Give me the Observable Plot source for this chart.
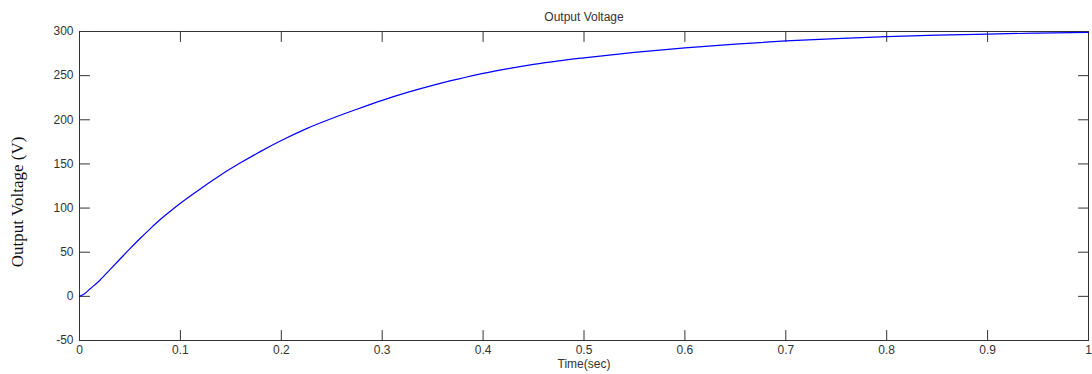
<!DOCTYPE html>
<html>
<head>
<meta charset="utf-8">
<script src="https://cdn.jsdelivr.net/npm/d3@7"></script>
<script src="https://cdn.jsdelivr.net/npm/@observablehq/plot@0.6"></script>
<style>
  html, body { margin: 0; padding: 0; background: #fff; }
  #chart svg { display: block; }
</style>
</head>
<body>
<div id="chart"></div>
<script>
// Data
const time = [0, 0.005, 0.01, 0.02, 0.03, 0.04, 0.05, 0.06, 0.07, 0.08, 0.09, 0.10,
  0.12, 0.14, 0.16, 0.18, 0.20, 0.225, 0.25, 0.275, 0.30, 0.325, 0.35, 0.375, 0.40,
  0.425, 0.45, 0.475, 0.50, 0.55, 0.60, 0.65, 0.70, 0.75, 0.80, 0.85, 0.90, 0.95, 1.00];
const voltage = [0, 3, 8, 18, 30, 42, 54, 65.5, 76.5, 87, 96.5, 105.5,
  122, 137.5, 151.5, 164.5, 176.5, 190, 201.5, 212, 222, 231, 239, 246, 252.5,
  258, 262.8, 266.8, 270.2, 276.3, 281.5, 285.8, 289.3, 292, 294.1, 295.8, 297.1, 298.2, 299];
const xTicks = [0, 0.1, 0.2, 0.3, 0.4, 0.5, 0.6, 0.7, 0.8, 0.9, 1];
const yTicks = [-50, 0, 50, 100, 150, 200, 250, 300];
const title = "Output Voltage";
const xLabel = "Time(sec)";
const yLabel = "Output Voltage (V)";

const rows = time.map((t, i) => ({t, v: voltage[i]}));

const tickShape = {
  draw(context, l) {
    context.moveTo(0, 0);
    context.lineTo(0, -l);
  }
};
const TL = 10;
const ink = "#333";

const chart = Plot.plot({
  width: 1092,
  height: 374,
  marginLeft: 79,
  marginRight: 4,
  marginTop: 31,
  marginBottom: 34,
  style: {fontFamily: "'Liberation Sans', Arial, sans-serif", fontSize: "12px", color: ink, background: "#fff"},
  x: {domain: [0, 1]},
  y: {domain: [-50, 300]},
  marks: [
    Plot.frame({stroke: ink, strokeWidth: 1}),
    // inward ticks on all four sides
    Plot.vectorX(xTicks, {x: d => d, frameAnchor: "bottom", length: TL, rotate: 0, anchor: "start", shape: tickShape, stroke: ink, strokeWidth: 1}),
    Plot.vectorX(xTicks, {x: d => d, frameAnchor: "top", length: TL, rotate: 180, anchor: "start", shape: tickShape, stroke: ink, strokeWidth: 1}),
    Plot.vectorY(yTicks, {y: d => d, frameAnchor: "left", length: TL, rotate: 90, anchor: "start", shape: tickShape, stroke: ink, strokeWidth: 1}),
    Plot.vectorY(yTicks, {y: d => d, frameAnchor: "right", length: TL, rotate: -90, anchor: "start", shape: tickShape, stroke: ink, strokeWidth: 1}),
    Plot.axisX({anchor: "bottom", ticks: xTicks, tickSize: 0, tickPadding: 5, tickFormat: d => String(d), label: null}),
    Plot.axisY({anchor: "left", ticks: yTicks, tickSize: 0, tickPadding: 6, tickFormat: d => String(d), label: null}),
    Plot.line(rows, {x: "t", y: "v", stroke: "#0000ff", strokeWidth: 1.2, curve: "monotone-x"}),
    Plot.text([title], {text: d => d, frameAnchor: "top", dy: -14, textAnchor: "middle", lineAnchor: "middle", fill: ink, fontSize: 12}),
    Plot.text([xLabel], {text: d => d, frameAnchor: "bottom", dy: 24, textAnchor: "middle", lineAnchor: "middle", fill: ink, fontSize: 12}),
    Plot.text([yLabel], {text: d => d, frameAnchor: "left", dx: -62, dy: 16, rotate: -90, textAnchor: "middle", lineAnchor: "middle",
      fill: "#111", fontSize: 17, fontFamily: "'Liberation Serif', 'Times New Roman', serif"})
  ]
});
document.getElementById("chart").appendChild(chart);
</script>
</body>
</html>
